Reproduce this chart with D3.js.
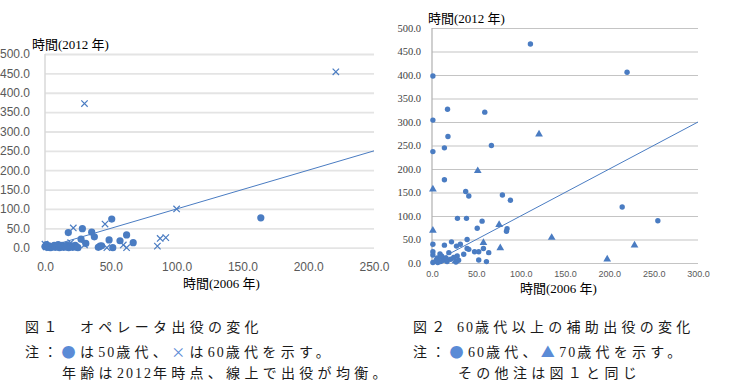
<!DOCTYPE html>
<html>
<head>
<meta charset="utf-8">
<script src="https://cdn.jsdelivr.net/npm/d3@7"></script>
<style>
  body { margin: 0; background: #fff; }
  svg { display: block; }
</style>
</head>
<body>
<script>
// fig 1: operator work hours, 2006 vs 2012
var fig1Age50 = [
  [0,3],[1,8],[2,1],[3,5],[4,0],[6,2],[7,6],[8,1],[9,4],[10,8],[11,0],[12,3],[13,6],[14,1],
  [15,4],[16,2],[17,7],[18,0],[19,3],[20,5],[21,1],[22,3],[23,6],[24,2],[25,0],
  [17.7,39],[28.4,49],[27.4,22],[31,11],[35.5,40],[37.5,28],[50.7,74],[48.7,20],[57,18],
  [62,33],[67,13],[51.5,0],[41.8,4],[40.5,1],[43,5],[164,77]
];
var fig1Age60 = [
  [0,9],[1,2],[3,0],[19.5,13],[21.5,51],[30,7],[30,372],[45.6,61],[47,0],[59.5,7],[62,0],
  [85.4,4],[87.5,24],[91.8,26],[100,100],[221,454]
];
var fig1XTicks = [0, 50, 100, 150, 200, 250];
var fig1YTicks = [0, 50, 100, 150, 200, 250, 300, 350, 400, 450, 500];

// fig 2: assistant work hours, 60s and over
var fig2Age60 = [
  [111,466],[1,398],[17.5,327],[59.5,321],[1,304],[18,269],[220,406],[14,245],[67,250],[1,237],
  [14,177],[38,152],[41.5,142.5],[79.4,144.7],[88.4,133.4],[28.7,95],[38.9,95],[56.5,89],[51,74],
  [84.7,73],[84,67.4],[39.6,50],[214.5,119],[254.7,90],[1,40],[14,38],[22,45],[27.6,36],[32,40],
  [39.6,31],[41.5,29],[48,24],[52.7,24],[58,31],[64,22],[35.8,18.5],[28.4,15],[52.7,6.4],[61.4,3],
  [1,24],[1,17],[6,11],[9,19],[11.5,13],[13,6],[17,3],[1,1],[6.5,1],[9.5,3],[4.7,6],[10.7,15],
  [19,22],[16,10],[21,8],[24.5,12],[27,2],[30,6]
];
var fig2Age70 = [
  [120.7,274],[51.6,196],[1,157],[1,69],[75.7,81.5],[135,54],[77,32],[58,43],[228.4,38],
  [197.6,8],[26.5,4],[7.7,3]
];
var fig2XTicks = [0, 50, 100, 150, 200, 250, 300];
var fig2YTicks = [0, 50, 100, 150, 200, 250, 300, 350, 400, 450, 500];

var caption1 = ["図１　オペレータ出役の変化", "注：●は50歳代、×は60歳代を示す。", "年齢は2012年時点、線上で出役が均衡。"];
var caption2 = ["図２ 60歳代以上の補助出役の変化", "注：●60歳代、▲70歳代を示す。", "その他注は図１と同じ"];

var blue = "#4a7cc2";
var fmt = d3.format(".1f");
var titleFont = "'Liberation Serif', 'Noto Sans CJK JP', serif";

var svg = d3.select("body").append("svg").attr("width", 733).attr("height", 386);

// ---------- chart 1 ----------
var x1 = d3.scaleLinear().domain([0, 250]).range([45, 374]);
var y1 = d3.scaleLinear().domain([0, 500]).range([247.7, 54]);
var g1 = svg.append("g");

var ya1 = g1.append("g").attr("transform", "translate(" + x1(0) + ",0)")
  .call(d3.axisLeft(y1).tickValues(fig1YTicks).tickFormat(fmt).tickSize(-(x1(250) - x1(0))).tickPadding(15));
ya1.select(".domain").remove();
ya1.selectAll("line").attr("stroke", "#e4e4e4").attr("stroke-width", 1.8);
ya1.selectAll("text").attr("fill", "#595959").style("font", "12px 'Liberation Sans', sans-serif");

g1.append("line").attr("x1", x1(0)).attr("x2", x1(0)).attr("y1", y1(500)).attr("y2", y1(0))
  .attr("stroke", "#d9d9d9").attr("stroke-width", 1.5);

var xa1 = g1.append("g").attr("transform", "translate(0," + y1(0) + ")")
  .call(d3.axisBottom(x1).tickValues(fig1XTicks).tickFormat(fmt).tickSize(0).tickPadding(15));
xa1.select(".domain").remove();
xa1.selectAll("text").attr("fill", "#595959").style("font", "12px 'Liberation Sans', sans-serif");

// balance line y = x
g1.append("line").attr("x1", x1(0)).attr("y1", y1(0)).attr("x2", x1(250)).attr("y2", y1(250))
  .attr("stroke", blue).attr("stroke-width", 1);

g1.selectAll("circle.a50").data(fig1Age50).enter().append("circle")
  .attr("cx", function(d) { return x1(d[0]); })
  .attr("cy", function(d) { return y1(d[1]); })
  .attr("r", 3.6).attr("fill", blue);

g1.selectAll("path.a60").data(fig1Age60).enter().append("path")
  .attr("d", function(d) {
    var cx = x1(d[0]), cy = y1(d[1]), s = 3.2;
    return "M" + (cx - s) + "," + (cy - s) + "L" + (cx + s) + "," + (cy + s) +
           "M" + (cx - s) + "," + (cy + s) + "L" + (cx + s) + "," + (cy - s);
  })
  .attr("stroke", blue).attr("stroke-width", 1.2).attr("fill", "none");

g1.append("text").attr("x", 32).attr("y", 49).style("font", "13px " + titleFont).text("時間(2012 年)");
g1.append("text").attr("x", 183).attr("y", 288).style("font", "13px " + titleFont).text("時間(2006 年)");

// ---------- chart 2 ----------
var x2 = d3.scaleLinear().domain([0, 300]).range([432, 698]);
var y2 = d3.scaleLinear().domain([0, 500]).range([263, 28]);
var g2 = svg.append("g");

var ya2 = g2.append("g").attr("transform", "translate(" + x2(0) + ",0)")
  .call(d3.axisLeft(y2).tickValues(fig2YTicks).tickFormat(fmt).tickSize(-(x2(300) - x2(0))).tickPadding(11));
ya2.select(".domain").remove();
ya2.selectAll("line").attr("stroke", "#c4c4c4").attr("stroke-width", 1.2);
ya2.selectAll("text").attr("fill", "#404040").style("font", "10.5px 'Liberation Serif', serif");

g2.append("line").attr("x1", x2(0)).attr("x2", x2(0)).attr("y1", y2(500)).attr("y2", y2(0))
  .attr("stroke", "#b0b0b0").attr("stroke-width", 1.2);

var xa2 = g2.append("g").attr("transform", "translate(0," + y2(0) + ")")
  .call(d3.axisBottom(x2).tickValues(fig2XTicks).tickFormat(fmt).tickSize(0).tickPadding(8));
xa2.select(".domain").remove();
xa2.selectAll("text").attr("fill", "#595959").style("font", "9px 'Liberation Sans', sans-serif");

g2.append("line").attr("x1", x2(0)).attr("y1", y2(0)).attr("x2", x2(300)).attr("y2", y2(300))
  .attr("stroke", blue).attr("stroke-width", 1);

g2.selectAll("circle.a60").data(fig2Age60).enter().append("circle")
  .attr("cx", function(d) { return x2(d[0]); })
  .attr("cy", function(d) { return y2(d[1]); })
  .attr("r", 2.7).attr("fill", blue);

g2.selectAll("path.a70").data(fig2Age70).enter().append("path")
  .attr("transform", function(d) { return "translate(" + x2(d[0]) + "," + y2(d[1]) + ")"; })
  .attr("d", d3.symbol().type(d3.symbolTriangle).size(26))
  .attr("fill", blue);

g2.append("text").attr("x", 428).attr("y", 23).style("font", "13px " + titleFont).text("時間(2012 年)");
g2.append("text").attr("x", 520).attr("y", 293).style("font", "13px " + titleFont).text("時間(2006 年)");

// ---------- captions ----------
function caption(str, x, y) {
  var t = svg.append("text").attr("x", x).attr("y", y)
    .style("font-family", "'Noto Sans CJK JP', sans-serif").style("font-size", "14px").attr("fill", "#1a1a1a")
    .attr("xml:space", "preserve");
  str.split(/([0-9]+|[●×▲])/).filter(function(s) { return s; }).forEach(function(s) {
    var sp = t.append("tspan").text(s);
    if (/^[0-9]+$/.test(s)) {
      sp.style("font-family", "'Liberation Serif', serif").style("letter-spacing", "2px");
    } else if (/^[●×▲]$/.test(s)) {
      sp.attr("fill", "#5b8bd6").style("letter-spacing", "4.3px");
    } else {
      sp.style("letter-spacing", "4.3px");
    }
  });
}
caption(caption1[0], 25, 332);
caption(caption1[1], 25, 357);
caption(caption1[2], 62, 378);
caption(caption2[0], 413, 332);
caption(caption2[1], 413, 357);
caption(caption2[2], 458, 378);
</script>
</body>
</html>
